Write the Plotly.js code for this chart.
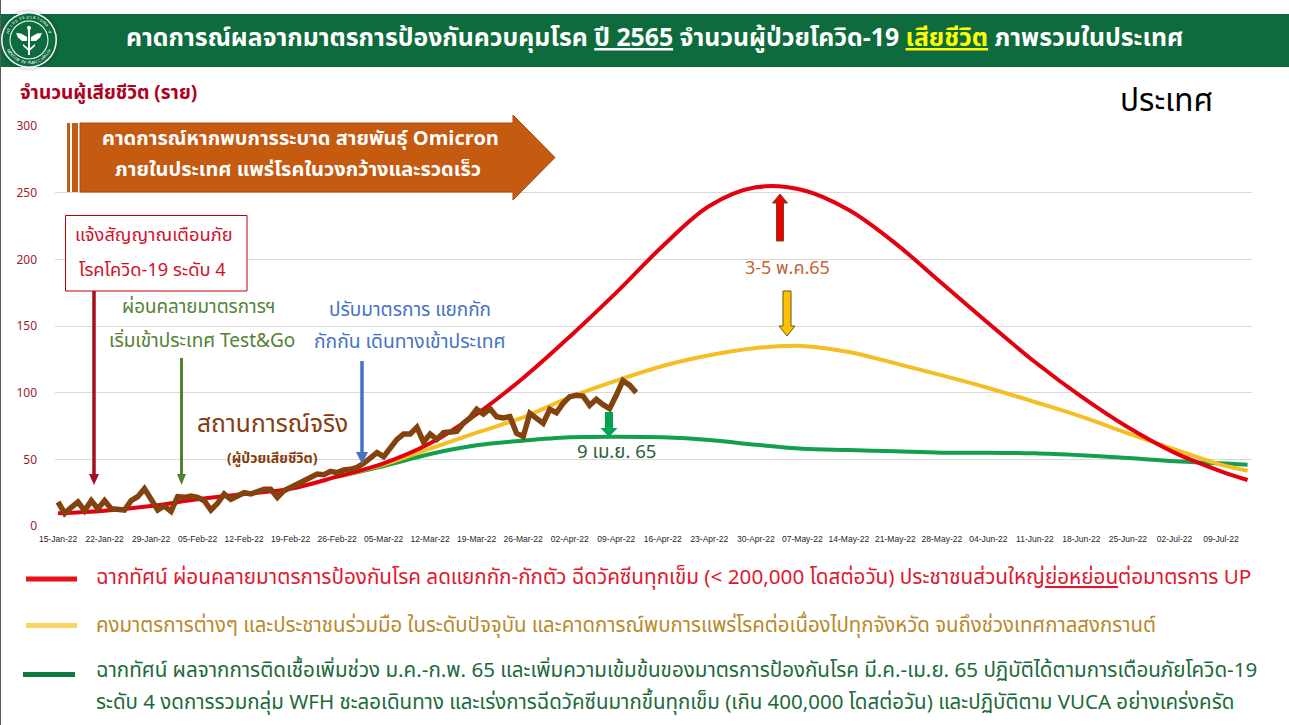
<!DOCTYPE html>
<html><head><meta charset="utf-8">
<script src="https://cdn.plot.ly/plotly-3.0.1.min.js"></script>
<style>html,body{margin:0;padding:0;background:#fff;overflow:hidden}</style></head>
<body><div id="chart" style="width:1289px;height:725px"></div>
<script>
const FONT = '"Noto Sans Thai","Noto Sans","Open Sans",Tahoma,sans-serif';
const weeklyDates = ['2022-01-15','2022-01-22','2022-01-29','2022-02-05','2022-02-12','2022-02-19','2022-02-26','2022-03-05','2022-03-12','2022-03-19','2022-03-26','2022-04-02','2022-04-09','2022-04-16','2022-04-23','2022-04-30','2022-05-07','2022-05-14','2022-05-21','2022-05-28','2022-06-04','2022-06-11','2022-06-18','2022-06-25','2022-07-02','2022-07-09','2022-07-13'];
const tickDates = weeklyDates.slice(0,26);
const redValues = [9.5,11.5,15,20,24,28,37,47,62,84,111,142,175,210,240,254,252,237,212,182,152,123,97,74,55,41,34.5];
const yellowValues = [37,46,58,70,81.5,96.5,109,120,128,133.5,135,130.5,122,113,103.5,93,82,69.5,57.5,46,41.5];
const greenValues = [37,45,54,60.5,64,66.5,67,66.5,64.5,61,58,57,56,55,55,54.5,53,51,48.5,47,46];
const actualValues = [18,9.5,14,18,11.5,19,13,19,13,13,12,19,22,28,19,12,15,11,22,21.5,22.5,21.5,19,12,17,24,20,22,25,24,26,27.5,27.5,21.5,26.5,29,30.5,33,35.5,39,38.5,41,40,42,42.5,44,47,50.5,55,52,59,65,69,69,74,63,69,65,70,71,71,77,81,87.5,84,88,82,81,82,69.5,67,84.5,81,77,87.5,85,92,97,98,97.5,90.5,95,91,88,98,109,105.6,100];
const actualDates = actualValues.map((_, i) => new Date(Date.UTC(2022, 0, 15 + i)).toISOString().slice(0, 10));
const yTicks = [0,50,100,150,200,250,300];

const L=55,T=126,PW=1197,PH=400;
const px = x => (x-L)/PW;
const py = y => (T+PH-y)/PH;
const path = pts => 'M'+pts.map(p=>px(p[0])+','+py(p[1])).join('L')+'Z';
const shp = (pts,fill,line,w) => ({type:'path',xref:'paper',yref:'paper',layer:'above',path:path(pts),fillcolor:fill,line:{color:line||fill,width:w===undefined?0:w}});
const rect=(x0,y0,x1,y1,fill,line,w)=>({type:'rect',xref:'paper',yref:'paper',layer:'above',x0:px(x0),x1:px(x1),y0:py(y0),y1:py(y1),fillcolor:fill,line:{color:line||fill,width:w||0}});
const circ=(cx,cy,r,fill,line,w)=>({type:'circle',xref:'paper',yref:'paper',layer:'above',x0:px(cx-r),x1:px(cx+r),y0:py(cy+r),y1:py(cy-r),fillcolor:fill,line:{color:line||fill,width:w||0}});
const seg=(x0,y0,x1,y1,color,w)=>({type:'line',xref:'paper',yref:'paper',layer:'above',x0:px(x0),x1:px(x1),y0:py(y0),y1:py(y1),line:{color:color,width:w}});
const note=(x,y,text,size,color,anchor,extra)=>Object.assign({xref:'paper',yref:'paper',x:px(x),y:py(y),text:text,showarrow:false,xanchor:anchor||'center',yanchor:'middle',font:{family:FONT,size:size,color:color}},extra||{});
const downArrow=(x,y0,y1,w,hw,hl,fill,line,lw)=>shp([[x-w/2,y0],[x+w/2,y0],[x+w/2,y1-hl],[x+hw/2,y1-hl],[x,y1],[x-hw/2,y1-hl],[x-w/2,y1-hl]],fill,line,lw);
const upArrow=(x,y0,y1,w,hw,hl,fill,line,lw)=>shp([[x-w/2,y1],[x+w/2,y1],[x+w/2,y0+hl],[x+hw/2,y0+hl],[x,y0],[x-hw/2,y0+hl],[x-w/2,y0+hl]],fill,line,lw);

const shapes=[
  rect(0,14,1289,67,'#0E6B3E'),
  seg(0.5,0,0.5,725,'#595959',1),
  circ(29,40,31,'rgba(0,0,0,0.08)'),
  circ(29,40,28,'#ffffff'),
  circ(29,40,26.5,'#0E6B3E'),
  circ(29,40,19.5,'#ffffff'),
  circ(29,40,18.5,'#0E6B3E'),
  seg(29,26,29,55,'#ffffff',2),
  shp([[16,33],[21,33.5],[27,37],[27,41],[22,41],[18,37.5]],'#ffffff'),
  shp([[42,33],[37,33.5],[31,37],[31,41],[36,41],[40,37.5]],'#ffffff'),
  shp([[23,44],[29,49],[35,44],[35,46],[29,51.5],[23,46]],'#ffffff'),
  circ(29,28,2,'#ffffff'),
  rect(67,123,70,192,'#C55A11'),
  rect(72,123,78,192,'#C55A11'),
  shp([[80,123],[513,123],[513,115],[555,157.5],[513,200],[513,192],[80,192]],'#C55A11','#A34A0E',1),
  rect(65.5,215.5,247,291,'#ffffff','#C00000',1),
  downArrow(94,291,485,3.5,10,11,'#A50F1E'),
  downArrow(181.5,358,485,3,9,11,'#548235'),
  downArrow(362,361,464,3.5,12,12,'#4472C4'),
  upArrow(780,194,241,7,15,9,'#F00000','#6B4A1F',1),
  downArrow(787,291,336,8,16,10,'#FFC000','#5E5A17',1),
  downArrow(609,412,437,8,17,9,'#00A64F','#00A64F',0),
  seg(26,579,77,579,'#E8101A',5),
  seg(26,625.5,77,625.5,'#F7D566',5),
  seg(23,674.5,75,674.5,'#0F7A42',5)
];

const ringE='MINISTRY OF PUBLIC HEALTH';
const ringT='กระทรวงสาธารณสุข';
const ringNotes=[...ringE].map((c,i)=>{const a=62-124*i/(ringE.length-1);const r=a*Math.PI/180;
  return note(29-23*Math.sin(r),40+23*Math.cos(r),c,4,'#ffffff','center',{textangle:a});}).concat(
  [...ringT].map((c,i)=>{const a=-70+140*i/(ringT.length-1);const r=a*Math.PI/180;
  return note(29+23*Math.sin(r),40-23*Math.cos(r),c,4.5,'#ffffff','center',{textangle:a});}));

const annotations=[
  note(654,39,'<b>คาดการณ์ผลจากมาตรการป้องกันควบคุมโรค <u>ปี 2565</u> จำนวนผู้ป่วยโควิด-19 <span style="color:#FFFF00"><u>เสียชีวิต</u></span> ภาพรวมในประเทศ</b>',24.8,'#ffffff'),
  note(18,93,'<b>จำนวนผู้เสียชีวิต (ราย)</b>',19,'#B00020','left'),
  note(1166,102,'ประเทศ',31.5,'#000000'),
  note(300,139,'<b>คาดการณ์หากพบการระบาด สายพันธุ์ Omicron</b>',20,'#ffffff'),
  note(298,170,'<b>ภายในประเทศ แพร่โรคในวงกว้างและรวดเร็ว</b>',20,'#ffffff'),
  note(154,235,'แจ้งสัญญาณเตือนภัย',18.3,'#D0112B'),
  note(152,270,'โรคโควิด-19 ระดับ 4',18.3,'#D0112B'),
  note(199,307,'ผ่อนคลายมาตรการฯ',18.8,'#548235'),
  note(202,341,'เริ่มเข้าประเทศ Test&amp;Go',19,'#548235'),
  note(410,310,'ปรับมาตรการ แยกกัก',19,'#4472C4'),
  note(410,342,'กักกัน เดินทางเข้าประเทศ',19.3,'#4472C4'),
  note(272,424,'สถานการณ์จริง',24.6,'#843C0C'),
  note(272,458,'<b>(ผู้ป่วยเสียชีวิต)</b>',14,'#843C0C'),
  note(787,268,'3-5 พ.ค.65',18,'#C0653A'),
  note(617,452,'9 เม.ย. 65',18.6,'#2B5D3A'),
  note(94,577,'ฉากทัศน์ ผ่อนคลายมาตรการป้องกันโรค ลดแยกกัก-กักตัว ฉีดวัคซีนทุกเข็ม (&lt; 200,000 โดสต่อวัน) ประชาชนส่วนใหญ่<u>ย่อหย่อน</u>ต่อมาตรการ UP',20.7,'#E0182D','left'),
  note(94,625,'คงมาตรการต่างๆ และประชาชนร่วมมือ ในระดับปัจจุบัน และคาดการณ์พบการแพร่โรคต่อเนื่องไปทุกจังหวัด จนถึงช่วงเทศกาลสงกรานต์',20.4,'#B8892B','left'),
  note(94,670,'ฉากทัศน์ ผลจากการติดเชื้อเพิ่มช่วง ม.ค.-ก.พ. 65 และเพิ่มความเข้มข้นของมาตรการป้องกันโรค มี.ค.-เม.ย. 65 ปฏิบัติได้ตามการเตือนภัยโควิด-19',20.6,'#1B6B3A','left'),
  note(94,702,'ระดับ 4 งดการรวมกลุ่ม WFH ชะลอเดินทาง และเร่งการฉีดวัคซีนมากขึ้นทุกเข็ม (เกิน 400,000 โดสต่อวัน) และปฏิบัติตาม VUCA อย่างเคร่งครัด',20.5,'#1B6B3A','left')
].concat(ringNotes);

const line=(name,x,y,color,width,shape)=>({type:'scatter',mode:'lines',name:name,x:x,y:y,line:{color:color,width:width,shape:shape||'spline',smoothing:1},hoverinfo:'skip'});
const traces=[
  line('green',weeklyDates.slice(6),greenValues,'#12A04E',4),
  line('yellow',weeklyDates.slice(6),yellowValues,'#F4BE24',4),
  line('red',weeklyDates,redValues,'#E3000F',4),
  line('actual',actualDates,actualValues,'#84420F',5.5,'linear')
];
const layout={
  width:1289,height:725,autosize:false,showlegend:false,
  paper_bgcolor:'#ffffff',plot_bgcolor:'#ffffff',
  margin:{l:L,r:1289-L-PW,t:T,b:725-T-PH,pad:0},
  font:{family:FONT},
  xaxis:{type:'date',range:['2022-01-14 13:00','2022-07-13 16:00'],tickmode:'array',tickvals:tickDates,
    ticktext:tickDates.map(d=>{const t=new Date(d+'T00:00:00Z');const m=['Jan','Feb','Mar','Apr','May','Jun','Jul'][t.getUTCMonth()];return String(t.getUTCDate()).padStart(2,'0')+'-'+m+'-22';}),
    tickangle:0,showgrid:false,zeroline:false,showline:false,ticks:'',ticklabelstandoff:6,tickfont:{family:'"Liberation Sans",sans-serif',size:8.5,color:'#262626'}},
  yaxis:{range:[0,300],tickmode:'array',tickvals:yTicks,showgrid:true,gridcolor:'#D9D9D9',gridwidth:1,zeroline:false,showline:false,ticks:'',ticklabelstandoff:17,tickfont:{family:FONT,size:12,color:'#9B1B30'}},
  shapes:shapes,annotations:annotations
};
Plotly.newPlot('chart',traces,layout,{displayModeBar:false,staticPlot:true});
</script></body></html>
